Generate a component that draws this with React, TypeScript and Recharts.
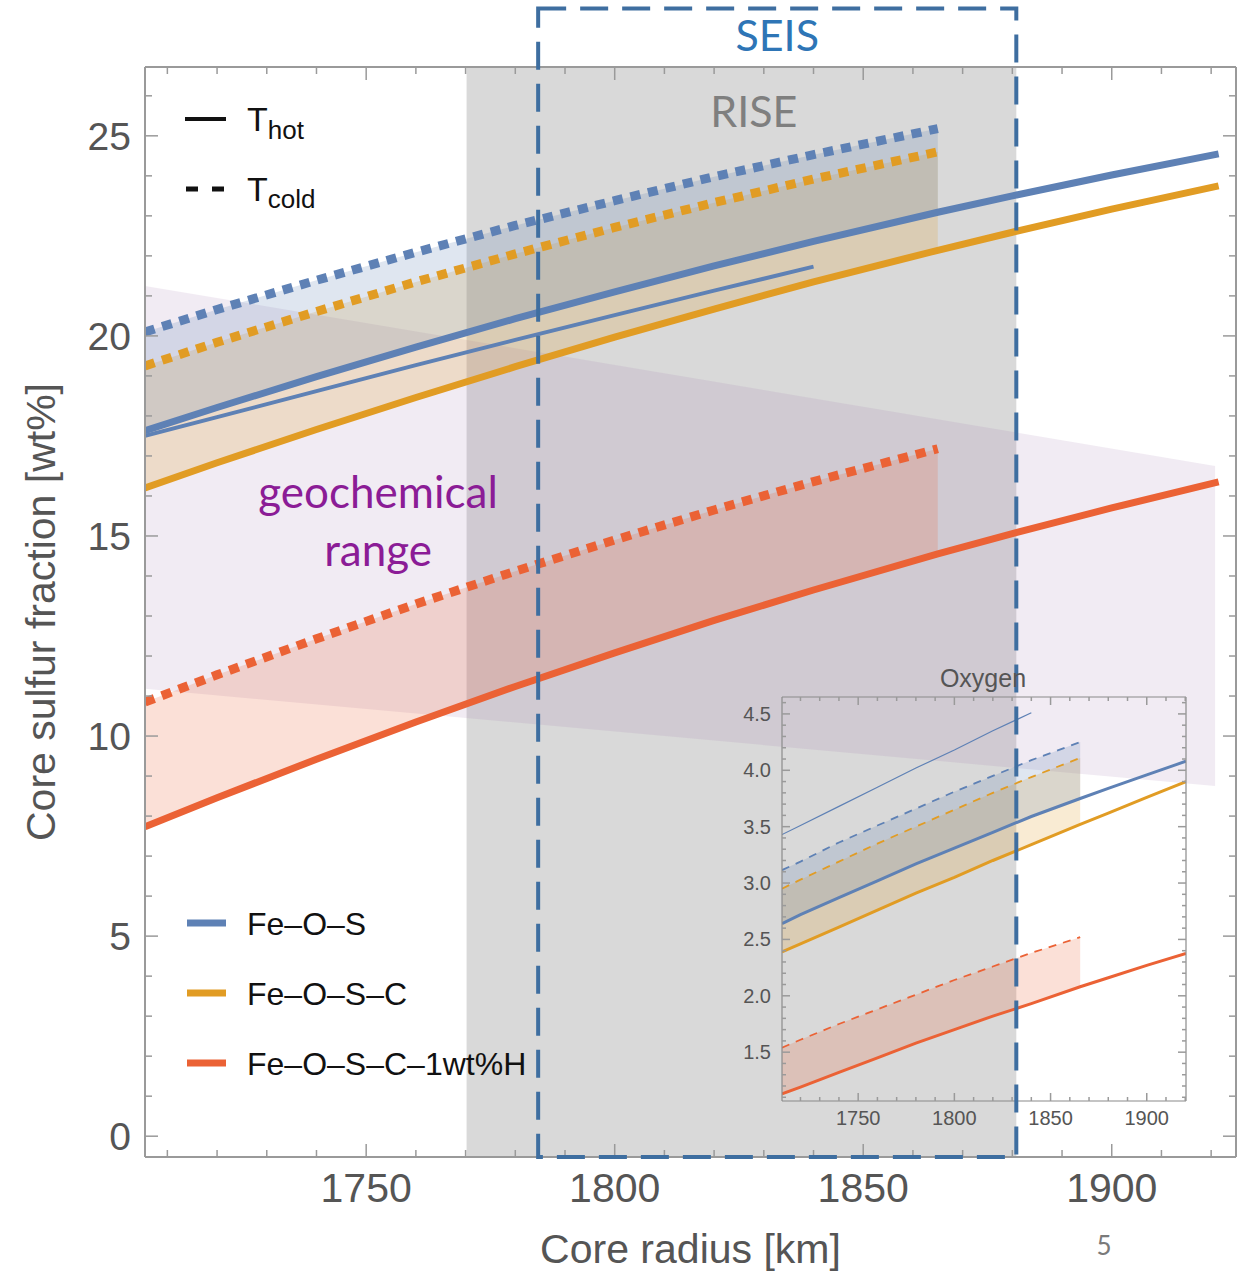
import React from 'react';
import { ComposedChart, Line, Area, XAxis, YAxis, ReferenceArea, ReferenceDot } from 'recharts';

const W = 1242;
const H = 1272;

const BLUE = '#5e81b5';
const ORANGE = '#e19c24';
const RED = '#eb6235';
const FRAME = '#9a9a9a';
const TICK_FONT = '"Liberation Sans", Arial, sans-serif';
const SLIDE_FONT = 'Lato, "Open Sans", sans-serif';

// main panel: core radius [km] -> core sulfur fraction [wt%]
const radius = [1705.5, 1720, 1740, 1760, 1780, 1800, 1820, 1840, 1865, 1880, 1900, 1921.5];
const feOS_hot = [17.63, 18.21, 18.98, 19.72, 20.43, 21.1, 21.75, 22.36, 23.09, 23.5, 24.02, 24.55];
const feOS_hot2 = [17.5, 17.97, 18.62, 19.27, 19.9, 20.52, 21.13, 21.73];
const feOS_cold = [20.1, 20.66, 21.39, 22.09, 22.76, 23.38, 23.98, 24.53, 25.18];
const feOSC_hot = [16.2, 16.83, 17.66, 18.46, 19.23, 19.97, 20.67, 21.35, 22.14, 22.59, 23.17, 23.75];
const feOSC_cold = [19.25, 19.84, 20.61, 21.35, 22.05, 22.71, 23.33, 23.92, 24.6];
const feOSCH_hot = [7.73, 8.46, 9.42, 10.35, 11.24, 12.08, 12.89, 13.65, 14.55, 15.06, 15.7, 16.35];
const feOSCH_cold = [10.85, 11.53, 12.43, 13.3, 14.12, 14.9, 15.65, 16.36, 17.18];

// geochemical range (corners)
const geoRadius = [1705.5, 1920.8];
const geoUpper = [21.25, 16.75];
const geoLower = [11.18, 8.75];

// mission ranges [km]
const riseRange = [1770.2, 1880.8];
const seisRange = [1784.6, 1880.8];

// inset: oxygen
const oxRadius = [1710.4, 1720, 1740, 1760, 1780, 1800, 1820, 1840, 1865.4, 1880, 1900, 1920.4];
const oxFeOS_hot = [2.64, 2.72, 2.87, 3.02, 3.17, 3.31, 3.45, 3.59, 3.75, 3.84, 3.96, 4.08];
const oxFeOS_hot2 = [3.43, 3.51, 3.68, 3.85, 4.02, 4.18, 4.35, 4.51];
const oxFeOS_cold = [3.115, 3.19, 3.36, 3.51, 3.66, 3.81, 3.95, 4.09, 4.25];
const oxFeOSC_hot = [2.39, 2.46, 2.61, 2.76, 2.91, 3.05, 3.2, 3.34, 3.52, 3.62, 3.76, 3.9];
const oxFeOSC_cold = [2.95, 3.03, 3.19, 3.35, 3.5, 3.65, 3.8, 3.94, 4.11];
const oxFeOSCH_hot = [1.13, 1.19, 1.32, 1.45, 1.58, 1.7, 1.82, 1.93, 2.08, 2.16, 2.27, 2.375];
const oxFeOSCH_cold = [1.54, 1.61, 1.75, 1.88, 2.01, 2.14, 2.26, 2.38, 2.52];

const X_DOMAIN: [number, number] = [1705.5, 1925];
const Y_DOMAIN: [number, number] = [-0.52, 26.72];
const OX_X_DOMAIN: [number, number] = [1710.4, 1920.4];
const OX_Y_DOMAIN: [number, number] = [1.067, 4.65];

const xTicksMain = Array.from({ length: 22 }, (_, i) => 1710 + i * 10);
const yTicksMain = Array.from({ length: 27 }, (_, i) => i);
const xTicksOx = Array.from({ length: 21 }, (_, i) => 1720 + i * 10);
const yTicksOx = Array.from({ length: 36 }, (_, i) => Math.round((1.1 + i * 0.1) * 10) / 10);

const pts = (xs: number[], ys: number[]) => ys.map((v, i) => ({ r: xs[i], v }));
const band = (xs: number[], lo: number[], hi: number[]) => hi.map((h, i) => ({ r: xs[i], v: [lo[i], h] }));

const isMajor = (v: number, every: number) => Math.abs(v / every - Math.round(v / every)) < 1e-6;

type Lbl = { d: number; size: number; fmt: (v: number) => string } | null;

function xTick(dir: number, every: number, big: number, small: number, lbl: Lbl) {
  return (p: any) => {
    const v = p.payload.value;
    const major = isMajor(v, every);
    return (
      <g>
        <line x1={p.x} x2={p.x} y1={p.y} y2={p.y + dir * (major ? big : small)} stroke={FRAME} strokeWidth={1.5} />
        {lbl && major ? (
          <text x={p.x} y={p.y + lbl.d} textAnchor="middle" fontSize={lbl.size} fill="#555" fontFamily={TICK_FONT}>
            {lbl.fmt(v)}
          </text>
        ) : null}
      </g>
    );
  };
}

function yTick(dir: number, every: number, big: number, small: number, lbl: Lbl, baseShift = 0) {
  return (p: any) => {
    const v = p.payload.value;
    const major = isMajor(v, every);
    return (
      <g>
        <line x1={p.x} x2={p.x + dir * (major ? big : small)} y1={p.y} y2={p.y} stroke={FRAME} strokeWidth={1.5} />
        {lbl && major ? (
          <text x={p.x - lbl.d} y={p.y + baseShift} textAnchor="end" fontSize={lbl.size} fill="#555" fontFamily={TICK_FONT}>
            {lbl.fmt(v)}
          </text>
        ) : null}
      </g>
    );
  };
}

// top axis is 1px tall and right axis 1px wide (0-sized axes are not drawn)
const MAIN_MARGIN = { top: 66, right: 5, bottom: 0, left: 0 };

function mainAxes(visible: boolean) {
  const axisLine = visible ? { stroke: FRAME, strokeWidth: 2 } : false;
  return [
    <XAxis
      key="xb"
      dataKey="r"
      type="number"
      domain={X_DOMAIN}
      allowDataOverflow
      ticks={xTicksMain}
      interval={0}
      height={115}
      tickSize={0}
      tickMargin={0}
      tickLine={false}
      axisLine={axisLine}
      tick={visible ? xTick(-1, 50, 13, 7, { d: 45, size: 41, fmt: (v) => String(v) }) : false}
      label={
        visible
          ? { value: 'Core radius [km]', position: 'insideBottom', offset: 9, fontSize: 41, fill: '#555', fontFamily: TICK_FONT }
          : undefined
      }
    />,
    <XAxis
      key="xt"
      xAxisId="t"
      orientation="top"
      dataKey="r"
      type="number"
      domain={X_DOMAIN}
      allowDataOverflow
      ticks={xTicksMain}
      interval={0}
      height={1}
      tickSize={0}
      tickMargin={0}
      tickLine={false}
      axisLine={axisLine}
      tick={visible ? xTick(1, 50, 13, 7, null) : false}
    />,
    <YAxis
      key="yl"
      type="number"
      domain={Y_DOMAIN}
      allowDataOverflow
      ticks={yTicksMain}
      interval={0}
      width={145}
      tickSize={0}
      tickMargin={0}
      tickLine={false}
      axisLine={axisLine}
      tick={visible ? yTick(1, 5, 13, 7, { d: 14, size: 39, fmt: (v) => String(v) }, 14) : false}
      label={
        visible
          ? {
              value: 'Core sulfur fraction [wt%]',
              angle: -90,
              position: 'insideLeft',
              offset: 40,
              style: { textAnchor: 'middle' },
              fontSize: 41,
              fill: '#555',
              fontFamily: TICK_FONT,
            }
          : undefined
      }
    />,
    <YAxis
      key="yr"
      yAxisId="r"
      orientation="right"
      type="number"
      domain={Y_DOMAIN}
      allowDataOverflow
      ticks={yTicksMain}
      interval={0}
      width={1}
      tickSize={0}
      tickMargin={0}
      tickLine={false}
      axisLine={axisLine}
      tick={visible ? yTick(-1, 5, 13, 7, null) : false}
    />,
  ];
}

function MainChart() {
  return (
    <ComposedChart width={W} height={H} margin={MAIN_MARGIN}>
      {mainAxes(true)}
      <ReferenceArea x1={riseRange[0]} x2={riseRange[1]} fill="#d9d9d9" fillOpacity={1} stroke="none" ifOverflow="hidden" />
      <Area data={band(geoRadius, geoLower, geoUpper)} dataKey="v" type="linear" stroke="none" fill="rgb(160,120,175)" fillOpacity={0.15} isAnimationActive={false} />

      <Area data={band(radius, feOSCH_hot, feOSCH_cold)} dataKey="v" type="linear" stroke="none" fill={RED} fillOpacity={0.2} isAnimationActive={false} />
      <Area data={band(radius, feOSC_hot, feOSC_cold)} dataKey="v" type="linear" stroke="none" fill={ORANGE} fillOpacity={0.2} isAnimationActive={false} />
      <Area data={band(radius, feOS_hot, feOS_cold)} dataKey="v" type="linear" stroke="none" fill={BLUE} fillOpacity={0.2} isAnimationActive={false} />

      <Line data={pts(radius, feOSCH_cold)} dataKey="v" type="linear" stroke={RED} strokeWidth={9} strokeDasharray="10 8" dot={false} isAnimationActive={false} />
      <Line data={pts(radius, feOSCH_hot)} dataKey="v" type="linear" stroke={RED} strokeWidth={7} dot={false} isAnimationActive={false} />
      <Line data={pts(radius, feOSC_cold)} dataKey="v" type="linear" stroke={ORANGE} strokeWidth={9} strokeDasharray="10 8" dot={false} isAnimationActive={false} />
      <Line data={pts(radius, feOSC_hot)} dataKey="v" type="linear" stroke={ORANGE} strokeWidth={7} dot={false} isAnimationActive={false} />
      <Line data={pts(radius, feOS_cold)} dataKey="v" type="linear" stroke={BLUE} strokeWidth={9} strokeDasharray="10 8" dot={false} isAnimationActive={false} />
      <Line data={pts(radius, feOS_hot2)} dataKey="v" type="linear" stroke={BLUE} strokeWidth={4} dot={false} isAnimationActive={false} />
      <Line data={pts(radius, feOS_hot)} dataKey="v" type="linear" stroke={BLUE} strokeWidth={7} dot={false} isAnimationActive={false} />

      <ReferenceDot
        x={1828}
        y={25.59}
        r={0}
        fill="none"
        stroke="none"
        ifOverflow="visible"
        label={{ value: 'RISE', position: 'center', fontSize: 43, fill: '#7f7f7f', fontFamily: SLIDE_FONT }}
      />
      <ReferenceDot
        x={1752.4}
        y={16.1}
        r={0}
        fill="none"
        stroke="none"
        ifOverflow="visible"
        label={{ value: 'geochemical', position: 'center', fontSize: 44, fill: '#8b1c96', fontFamily: SLIDE_FONT }}
      />
      <ReferenceDot
        x={1752.4}
        y={14.63}
        r={0}
        fill="none"
        stroke="none"
        ifOverflow="visible"
        label={{ value: 'range', position: 'center', fontSize: 44, fill: '#8b1c96', fontFamily: SLIDE_FONT }}
      />
    </ComposedChart>
  );
}

// SEIS box drawn on its own layer so it sits over the inset
function SeisChart() {
  return (
    <ComposedChart width={W} height={H} margin={MAIN_MARGIN}>
      {mainAxes(false)}
      <ReferenceArea
        x1={seisRange[0]}
        x2={seisRange[1]}
        y1={Y_DOMAIN[0]}
        y2={28.18}
        ifOverflow="visible"
        fill="none"
        fillOpacity={0}
        stroke="#3e6ea0"
        strokeWidth={4}
        strokeDasharray="28 14"
        label={{ value: 'SEIS', position: 'insideTop', offset: 12, fontSize: 43, fill: '#2e75b6', fontFamily: SLIDE_FONT }}
      />
    </ComposedChart>
  );
}

const OX_MARGIN = { top: 46, right: 33, bottom: 0, left: 0 };
const OX_FRAME = { stroke: '#8a8a8a', strokeWidth: 1.2 };

function OxygenInset() {
  const fmt = (v: number) => v.toFixed(1);
  return (
    <ComposedChart width={520} height={490} margin={OX_MARGIN}>
      <XAxis
        dataKey="r"
        type="number"
        domain={OX_X_DOMAIN}
        allowDataOverflow
        ticks={xTicksOx}
        interval={0}
        height={39}
        tickSize={0}
        tickMargin={0}
        tickLine={false}
        axisLine={OX_FRAME}
        tick={xTick(-1, 50, 8, 4, { d: 24, size: 20, fmt: (v) => String(v) })}
      />
      <XAxis
        xAxisId="t"
        orientation="top"
        dataKey="r"
        type="number"
        domain={OX_X_DOMAIN}
        allowDataOverflow
        ticks={xTicksOx}
        interval={0}
        height={1}
        tickSize={0}
        tickMargin={0}
        tickLine={false}
        axisLine={OX_FRAME}
        tick={xTick(1, 50, 8, 4, null)}
      />
      <YAxis
        type="number"
        domain={OX_Y_DOMAIN}
        allowDataOverflow
        ticks={yTicksOx}
        interval={0}
        width={82}
        tickSize={0}
        tickMargin={0}
        tickLine={false}
        axisLine={OX_FRAME}
        tick={yTick(1, 0.5, 8, 4, { d: 11, size: 20, fmt }, 7)}
      />
      <YAxis
        yAxisId="r"
        orientation="right"
        type="number"
        domain={OX_Y_DOMAIN}
        allowDataOverflow
        ticks={yTicksOx}
        interval={0}
        width={1}
        tickSize={0}
        tickMargin={0}
        tickLine={false}
        axisLine={OX_FRAME}
        tick={yTick(-1, 0.5, 8, 4, null)}
      />

      <Area data={band(oxRadius, oxFeOSCH_hot, oxFeOSCH_cold)} dataKey="v" type="linear" stroke="none" fill={RED} fillOpacity={0.2} isAnimationActive={false} />
      <Area data={band(oxRadius, oxFeOSC_hot, oxFeOSC_cold)} dataKey="v" type="linear" stroke="none" fill={ORANGE} fillOpacity={0.2} isAnimationActive={false} />
      <Area data={band(oxRadius, oxFeOS_hot, oxFeOS_cold)} dataKey="v" type="linear" stroke="none" fill={BLUE} fillOpacity={0.2} isAnimationActive={false} />

      <Line data={pts(oxRadius, oxFeOSCH_cold)} dataKey="v" type="linear" stroke={RED} strokeWidth={1.8} strokeDasharray="8 7" dot={false} isAnimationActive={false} />
      <Line data={pts(oxRadius, oxFeOSCH_hot)} dataKey="v" type="linear" stroke={RED} strokeWidth={3} dot={false} isAnimationActive={false} />
      <Line data={pts(oxRadius, oxFeOSC_cold)} dataKey="v" type="linear" stroke={ORANGE} strokeWidth={1.8} strokeDasharray="8 7" dot={false} isAnimationActive={false} />
      <Line data={pts(oxRadius, oxFeOSC_hot)} dataKey="v" type="linear" stroke={ORANGE} strokeWidth={3} dot={false} isAnimationActive={false} />
      <Line data={pts(oxRadius, oxFeOS_cold)} dataKey="v" type="linear" stroke={BLUE} strokeWidth={1.8} strokeDasharray="8 7" dot={false} isAnimationActive={false} />
      <Line data={pts(oxRadius, oxFeOS_hot2)} dataKey="v" type="linear" stroke={BLUE} strokeWidth={1.2} dot={false} isAnimationActive={false} />
      <Line data={pts(oxRadius, oxFeOS_hot)} dataKey="v" type="linear" stroke={BLUE} strokeWidth={3} dot={false} isAnimationActive={false} />
    </ComposedChart>
  );
}

const legendItems = [
  { name: 'Fe–O–S', color: BLUE },
  { name: 'Fe–O–S–C', color: ORANGE },
  { name: 'Fe–O–S–C–1wt%H', color: RED },
];

function Legends() {
  return (
    <svg width={W} height={H} style={{ position: 'absolute', left: 0, top: 0, pointerEvents: 'none' }}>
      <g fontFamily={TICK_FONT} fill="#111">
        <line x1={185} x2={226} y1={119} y2={119} stroke="#111" strokeWidth={4} />
        <text x={247} y={131} fontSize={34}>
          T<tspan fontSize={26} dy={8}>hot</tspan>
        </text>
        <line x1={186} x2={226} y1={189} y2={189} stroke="#111" strokeWidth={5} strokeDasharray="12 14" />
        <text x={247} y={201} fontSize={34}>
          T<tspan fontSize={26} dy={7}>cold</tspan>
        </text>
        {legendItems.map((it, i) => (
          <g key={it.name}>
            <line x1={187} x2={226} y1={923 + i * 70} y2={923 + i * 70} stroke={it.color} strokeWidth={7} />
            <text x={247} y={935 + i * 70} fontSize={32}>
              {it.name}
            </text>
          </g>
        ))}
      </g>
      <text x={983} y={687} textAnchor="middle" fontSize={25} fill="#555" fontFamily={TICK_FONT}>
        Oxygen
      </text>
      <text x={1104} y={1255} textAnchor="middle" fontSize={26} fill="#7a7a7a" fontFamily={SLIDE_FONT}>
        5
      </text>
    </svg>
  );
}

export default function App() {
  return (
    <div style={{ position: 'absolute', left: 0, top: 0, width: W, height: H, background: '#fff' }}>
      <div style={{ position: 'absolute', left: 0, top: 0 }}>
        <MainChart />
      </div>
      <div style={{ position: 'absolute', left: 700, top: 650 }}>
        <OxygenInset />
      </div>
      <div style={{ position: 'absolute', left: 0, top: 0 }}>
        <SeisChart />
      </div>
      <Legends />
    </div>
  );
}
